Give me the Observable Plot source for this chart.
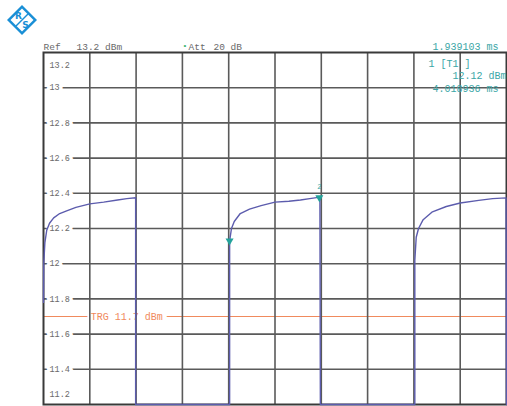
<!DOCTYPE html>
<html>
<head>
<meta charset="utf-8">
<script src="https://cdn.jsdelivr.net/npm/d3@7"></script>
<script src="https://cdn.jsdelivr.net/npm/@observablehq/plot@0.6"></script>
<style>
  html, body { margin: 0; padding: 0; background: white; overflow: hidden; }
</style>
</head>
<body>
<div id="chart"></div>
<script>
// Trace: time (ms, 1 ms / division) and level (dBm)
const traceTime = [
  0, 0.005, 0.03, 0.07, 0.13, 0.22, 0.35, 0.5, 0.7, 1.0, 1.3, 1.6, 1.8, 1.99,
  1.99, 4.02,
  4.02, 4.06, 4.12, 4.25, 4.45, 4.7, 5.0, 5.3, 5.55, 5.75, 5.97,
  5.98, 8.02,
  8.02, 8.05, 8.1, 8.2, 8.4, 8.7, 9.0, 9.4, 9.7, 9.99,
  10.0
];
const traceLevel = [
  11.78, 12.0, 12.12, 12.19, 12.23, 12.26, 12.285, 12.30, 12.32, 12.34, 12.35, 12.362, 12.37, 12.375,
  11.2, 11.2,
  12.13, 12.20, 12.24, 12.285, 12.31, 12.33, 12.35, 12.355, 12.362, 12.37, 12.378,
  11.2, 11.2,
  12.02, 12.15, 12.2, 12.25, 12.295, 12.325, 12.345, 12.36, 12.37, 12.374,
  11.2
];
const yTicks = [13, 12.8, 12.6, 12.4, 12.2, 12, 11.8, 11.6, 11.4];
const xTicks = [1, 2, 3, 4, 5, 6, 7, 8, 9];
const yDomain = [11.2, 13.2];
const xDomain = [0, 10];
const markerTime = [4.018936, 5.958039];
const markerLevel = [12.13, 12.376];
const markerName = ["", "2"];
const trgLevel = 11.7;
const trgLabel = "TRG 11.7 dBm";
const trgLabelTime = 1.0;

const trace = traceTime.map((t, i) => ({t, v: traceLevel[i]}));
const markers = markerTime.map((t, i) => ({t, v: markerLevel[i], name: markerName[i]}));

const grayTxt = "#6a6a6a";
const teal = "#3aa6a6";
const orange = "#f08a5d";
const fmt = d => (Math.round(d * 10) / 10).toString();

const hdr = (txt, opts) => Plot.text([txt], {text: d => d, fontSize: 9.5, ...opts});

const chart = Plot.plot({
  width: 507,
  height: 406,
  marginLeft: 43,
  marginRight: 1,
  marginTop: 52,
  marginBottom: 2,
  x: {domain: xDomain, axis: null},
  y: {domain: yDomain, axis: null},
  style: {background: "white", fontFamily: "'Liberation Mono', 'DejaVu Sans Mono', monospace"},
  marks: [
    Plot.ruleY([trgLevel], {stroke: orange, strokeWidth: 1}),
    Plot.text([trgLabel], {x: trgLabelTime, y: trgLevel, text: d => d, textAnchor: "start", dx: 1,
      fill: orange, stroke: "white", strokeWidth: 9, strokeLinejoin: "round", fontSize: 10}),
    Plot.ruleY(yTicks, {stroke: "#5a5a5a", strokeWidth: 1.6}),
    Plot.ruleX(xTicks, {stroke: "#5a5a5a", strokeWidth: 1.6}),
    Plot.frame({stroke: "#3a3a3a", strokeWidth: 2}),
    Plot.text(yTicks, {x: xDomain[0], y: d => d, text: fmt, textAnchor: "start", dx: 6,
      fill: grayTxt, stroke: "white", strokeWidth: 7, strokeLinejoin: "round", fontSize: 8.5}),
    Plot.text([yDomain[1]], {frameAnchor: "top-left", text: fmt, textAnchor: "start", dx: 6, dy: 9,
      fill: grayTxt, fontSize: 8.5}),
    Plot.text([yDomain[0]], {frameAnchor: "bottom-left", text: fmt, textAnchor: "start", dx: 6, dy: -8,
      fill: grayTxt, fontSize: 8.5}),
    Plot.line(trace, {x: "t", y: "v", stroke: "#5c5cad", strokeWidth: 1.4}),
    Plot.dot(markers, {x: "t", y: "v", symbol: "triangle", rotate: 180, r: 3, fill: "#23a39b", stroke: "none"}),
    Plot.text(markers, {x: "t", y: "v", text: "name", dy: -11, fill: teal, fontSize: 7}),
    // header line
    hdr("Ref", {frameAnchor: "top-left", textAnchor: "start", dy: -9.5, fill: grayTxt}),
    hdr("13.2 dBm", {frameAnchor: "top-left", textAnchor: "start", dx: 33, dy: -9.5, fill: grayTxt}),
    hdr("\u2022", {frameAnchor: "top-left", textAnchor: "start", dx: 139, dy: -10.5, fill: "#3cb371", fontSize: 8}),
    hdr("Att", {frameAnchor: "top-left", textAnchor: "start", dx: 145, dy: -9.5, fill: grayTxt}),
    hdr("20 dB", {frameAnchor: "top-left", textAnchor: "start", dx: 170, dy: -9.5, fill: grayTxt}),
    hdr("1.939103 ms", {frameAnchor: "top-right", textAnchor: "end", dx: -8, dy: -9.5, fill: teal, fontSize: 10}),
    // marker info
    hdr("1 [T1 ]", {frameAnchor: "top-left", textAnchor: "start", dx: 385, dy: 7, fill: teal, fontSize: 10}),
    hdr("12.12 dBm", {frameAnchor: "top-right", textAnchor: "end", dx: 0, dy: 19.5, fill: teal, fontSize: 10}),
    hdr("4.018936 ms", {frameAnchor: "top-right", textAnchor: "end", dx: -8, dy: 32, fill: teal, fontSize: 10})
  ]
});

// Rohde & Schwarz style logo (decoration)
const svg = d3.select(chart);
const g = svg.append("g").attr("transform", "translate(22,20)");
const blue = "#1a8fd6";
g.append("path").attr("d", "M0,-15 L15,0 L0,15 L-15,0 Z").attr("fill", blue);
g.append("path").attr("d", "M0,-11.5 L11.5,0 L0,11.5 L-11.5,0 Z").attr("fill", "white");
g.append("line").attr("x1", -6).attr("y1", 6).attr("x2", 6).attr("y2", -6)
  .attr("stroke", blue).attr("stroke-width", 1.5);
g.append("text").attr("x", -3.5).attr("y", -1.5).attr("text-anchor", "middle")
  .attr("font-family", "DejaVu Sans, sans-serif").attr("font-size", 9).attr("font-weight", "bold")
  .attr("fill", blue).text("R");
g.append("text").attr("x", 3.5).attr("y", 8).attr("text-anchor", "middle")
  .attr("font-family", "DejaVu Sans, sans-serif").attr("font-size", 9).attr("font-weight", "bold")
  .attr("fill", blue).text("S");

document.getElementById("chart").appendChild(chart);
</script>
</body>
</html>
